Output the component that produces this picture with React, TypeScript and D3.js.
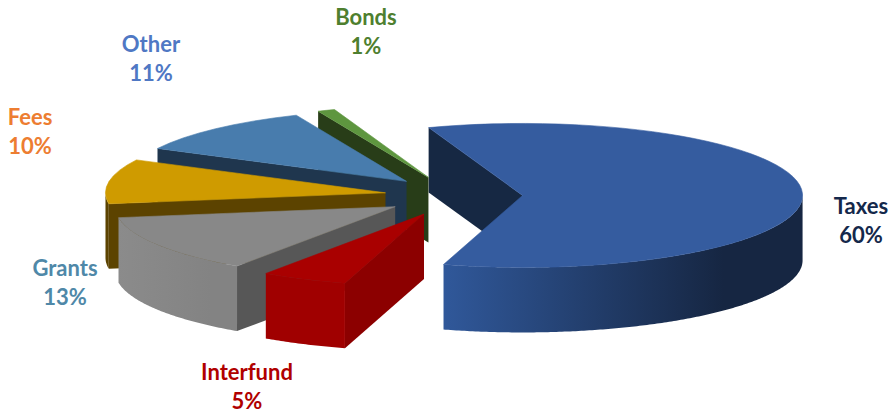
import React from "react";
import * as d3 from "d3";

// Revenue shares, in percent
const categories = ["Taxes", "Interfund", "Grants", "Fees", "Other", "Bonds"];
const shares = [60, 5, 13, 10, 11, 1];

// Colours per slice: lid, cut wall, rim gradient (light end, dark end), label
const lidColors = ["#355C9F", "#A90000", "#888888", "#CF9B00", "#487CAD", "#5E963F"];
const wallColors = ["#162843", "#8C0000", "#575757", "#5C4300", "#1F364E", "#283D18"];
const rimLight = ["#30589A", "#A00000", "#8B8B8B", "#5C4300", "#1F364E", "#283D18"];
const rimDark = ["#162642", "#A00000", "#838383", "#5C4300", "#1F364E", "#283D18"];
const labelColors = ["#14284B", "#B00000", "#4F88A8", "#ED7D31", "#4F78C4", "#4E7F2F"];

// Centre of each two-line label and the baseline of its first line
const labelAnchors = [
  [861, 214],
  [247, 380],
  [65, 276],
  [30, 125],
  [151, 52],
  [366, 25],
];

const WIDTH = 890;
const HEIGHT = 413;
const CX = 453.6;
const CY = 196;
const RX = 280;
const RY = 72;
const DEPTH = 65;
const EXPLODE_X = 69;
const EXPLODE_Y = 20;
const START = (-19.6 * Math.PI) / 180;

const pieLayout = d3
  .pie<number>()
  .sort(null)
  .startAngle(START)
  .endAngle(START + 2 * Math.PI);

const lid = d3.arc<d3.PieArcDatum<number>>().innerRadius(0).outerRadius(RX);
const poly = d3.line();
const rimArea = d3
  .area<[number, number]>()
  .x((p) => p[0])
  .y0((p) => p[1])
  .y1((p) => p[1] + DEPTH);

export default function App() {
  const slices = pieLayout(shares).map((arc, i) => {
    const mid = (arc.startAngle + arc.endAngle) / 2;
    const ax = CX + EXPLODE_X * Math.sin(mid);
    const ay = CY - EXPLODE_Y * Math.cos(mid);
    const rimPoint = (t: number): [number, number] => [
      ax + RX * Math.sin(t),
      ay - RY * Math.cos(t),
    ];

    // Cut face along the leading edge of the slice
    const s = rimPoint(arc.startAngle);
    const wall = poly([
      s,
      [ax, ay],
      [ax, ay + DEPTH],
      [s[0], s[1] + DEPTH],
    ]) as string;

    // Outer rim faces the viewer only across the front half of the ellipse
    const a0 = Math.max(arc.startAngle, Math.PI / 2);
    const a1 = Math.min(arc.endAngle, (3 * Math.PI) / 2);
    const rimAngles = a1 > a0 ? d3.range(a0, a1, 0.01).concat(a1) : [];
    const rim = rimAngles.length ? (rimArea(rimAngles.map(rimPoint)) as string) : null;
    const xs = rimAngles.map((t) => rimPoint(t)[0]);
    const gx0 = d3.min(xs) ?? 0;
    const gx1 = d3.max(xs) ?? 1;

    return { arc, i, ax, ay, wall, rim, gx0, gx1 };
  });

  return (
    <svg
      width={WIDTH}
      height={HEIGHT}
      viewBox={`0 0 ${WIDTH} ${HEIGHT}`}
      style={{ position: "absolute", left: 0, top: 0, display: "block" }}
    >
      <defs>
        {slices.map((d) =>
          d.rim ? (
            <linearGradient
              key={d.i}
              id={`rim-${d.i}`}
              gradientUnits="userSpaceOnUse"
              x1={d.gx0}
              x2={d.gx1}
              y1={0}
              y2={0}
            >
              <stop offset="0" stopColor={rimLight[d.i]} />
              <stop offset="0.78" stopColor={rimDark[d.i]} />
              <stop offset="1" stopColor={rimDark[d.i]} />
            </linearGradient>
          ) : null
        )}
      </defs>

      {/* Back to front: Taxes, then round the back to the Interfund wedge at the front */}
      {[0, 5, 4, 3, 2, 1].map((k) => {
        const d = slices[k];
        return (
          <g key={categories[k]}>
            <path d={d.wall} fill={wallColors[k]} />
            {d.rim && <path d={d.rim} fill={`url(#rim-${k})`} />}
            {/* A thin stroke in the lid colour closes the seam against the rim */}
            <path
              d={lid(d.arc) as string}
              fill={lidColors[k]}
              stroke={lidColors[k]}
              strokeWidth={0.6}
              vectorEffect="non-scaling-stroke"
              transform={`translate(${d.ax},${d.ay}) scale(1,${RY / RX})`}
            />
          </g>
        );
      })}

      {categories.map((name, k) => (
        <text
          key={name}
          x={labelAnchors[k][0]}
          y={labelAnchors[k][1]}
          textAnchor="middle"
          fontFamily="Lato, sans-serif"
          fontWeight={700}
          fontSize={22}
          fill={labelColors[k]}
        >
          <tspan x={labelAnchors[k][0]}>{name}</tspan>
          <tspan x={labelAnchors[k][0]} dy={29.3}>
            {shares[k]}%
          </tspan>
        </text>
      ))}
    </svg>
  );
}
